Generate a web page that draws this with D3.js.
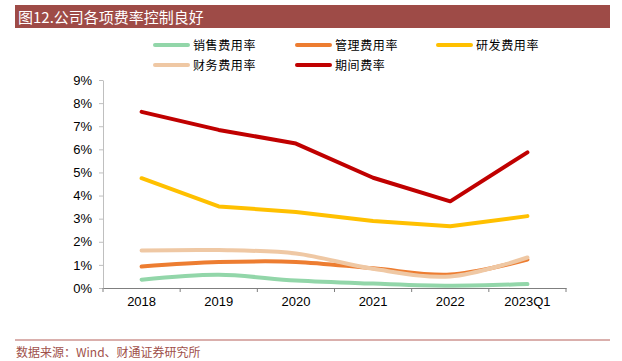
<!DOCTYPE html>
<html>
<head>
<meta charset="utf-8">
<script src="https://cdn.jsdelivr.net/npm/d3@7"></script>
<style>
  body { margin: 0; background: #fff; }
</style>
</head>
<body>
<div id="wrapper"></div>
<script>
width = 622
height = 361

marginTop = 80   // top of plot (9%)
marginLeft = 103 // left axis
plotRight = 566
plotBottom = 288

// data, in %
var categories = ["2018", "2019", "2020", "2021", "2022", "2023Q1"]
var sales = [0.36, 0.57, 0.32, 0.19, 0.10, 0.17]       // 销售费用率
var admin = [0.93, 1.12, 1.13, 0.85, 0.58, 1.23]       // 管理费用率
var rnd = [4.75, 3.53, 3.29, 2.90, 2.67, 3.11]         // 研发费用率
var finance = [1.62, 1.64, 1.49, 0.83, 0.50, 1.32]     // 财务费用率
var period = [7.62, 6.84, 6.25, 4.77, 3.75, 5.87]      // 期间费率
var yTicks = [0, 1, 2, 3, 4, 5, 6, 7, 8, 9]

var series = [
    { name: "销售费用率", values: sales, color: "#92D6A9", smooth: true },
    { name: "管理费用率", values: admin, color: "#ED7D31", smooth: true },
    { name: "研发费用率", values: rnd, color: "#FFC000", smooth: false },
    { name: "财务费用率", values: finance, color: "#EFC8A4", smooth: true },
    { name: "期间费率", values: period, color: "#C00000", smooth: false }
]
// drawing order (back to front)
var drawOrder = [0, 2, 1, 3, 4]

const svg = d3.select("#wrapper").append("svg")
    .attr("width", width)
    .attr("height", height)
    .style("display", "block")

// title bar
svg.append("rect")
    .attr("x", 15).attr("y", 5)
    .attr("width", 595).attr("height", 23)
    .attr("fill", "#9E4B47")
svg.append("text")
    .attr("x", 18).attr("y", 22.5)
    .attr("fill", "#fff")
    .style("font", "15px 'Noto Sans CJK SC', sans-serif")
    .text("图12.公司各项费率控制良好")

var x = d3.scaleBand()
    .domain(categories)
    .range([marginLeft, plotRight])

var y = d3.scaleLinear()
    .domain([0, 9])
    .range([plotBottom, marginTop])

// y axis
svg.append("g")
    .attr("transform", `translate(${marginLeft},0)`)
    .call(d3.axisLeft(y).tickValues(yTicks).tickFormat(d => d + "%").tickSize(4).tickSizeOuter(0).tickPadding(7))
    .call(g => g.select(".domain").attr("stroke", "#bfbfbf"))
    .call(g => g.selectAll(".tick line").attr("stroke", "#bfbfbf"))
    .call(g => g.selectAll("text").style("font", "13px 'Liberation Sans', Arial, sans-serif").attr("fill", "#000"))

// x axis
svg.append("g")
    .attr("transform", `translate(0,${plotBottom})`)
    .call(d3.axisBottom(x).tickSize(0).tickPadding(9))
    .call(g => g.select(".domain").attr("stroke", "#7f7f7f"))
    .call(g => g.selectAll("text").style("font", "13px 'Liberation Sans', Arial, sans-serif").attr("fill", "#000"))

// x boundary ticks
svg.append("g")
    .selectAll("line")
    .data(categories.map((c, i) => x(c)).concat([plotRight]))
    .join("line")
    .attr("x1", d => d).attr("x2", d => d)
    .attr("y1", plotBottom).attr("y2", plotBottom + 4)
    .attr("stroke", "#7f7f7f")

// lines
drawOrder.forEach(i => {
    var s = series[i]
    var line = d3.line()
        .x((d, j) => x(categories[j]) + x.bandwidth() / 2)
        .y(d => y(d))
        .curve(s.smooth ? d3.curveCatmullRom.alpha(0.5) : d3.curveLinear)
    svg.append("path")
        .datum(s.values)
        .attr("d", line)
        .attr("fill", "none")
        .attr("stroke", s.color)
        .attr("stroke-width", 4)
        .attr("stroke-linejoin", "round")
        .attr("stroke-linecap", "round")
})

// legend
var legendPos = [[155, 45], [297, 45], [438, 45], [155, 65], [297, 65]]
var legend = svg.append("g")
    .selectAll("g")
    .data(series)
    .join("g")
    .attr("transform", (d, i) => `translate(${legendPos[i][0]},${legendPos[i][1]})`)
legend.append("line")
    .attr("x1", 0).attr("x2", 33)
    .attr("stroke", d => d.color)
    .attr("stroke-width", 4)
    .attr("stroke-linecap", "round")
legend.append("text")
    .attr("x", 38).attr("y", 4.5)
    .style("font", "12px 'Noto Sans CJK SC', sans-serif")
    .style("letter-spacing", "0.6px")
    .attr("fill", "#000")
    .text(d => d.name)

// footer
svg.append("line")
    .attr("x1", 15).attr("x2", 610)
    .attr("y1", 340).attr("y2", 340)
    .attr("stroke", "#B5605A")
svg.append("text")
    .attr("x", 16).attr("y", 357)
    .attr("fill", "#A0504A")
    .style("font", "12px 'Noto Sans CJK SC', sans-serif")
    .text("数据来源：Wind、财通证券研究所")
</script>
</body>
</html>
